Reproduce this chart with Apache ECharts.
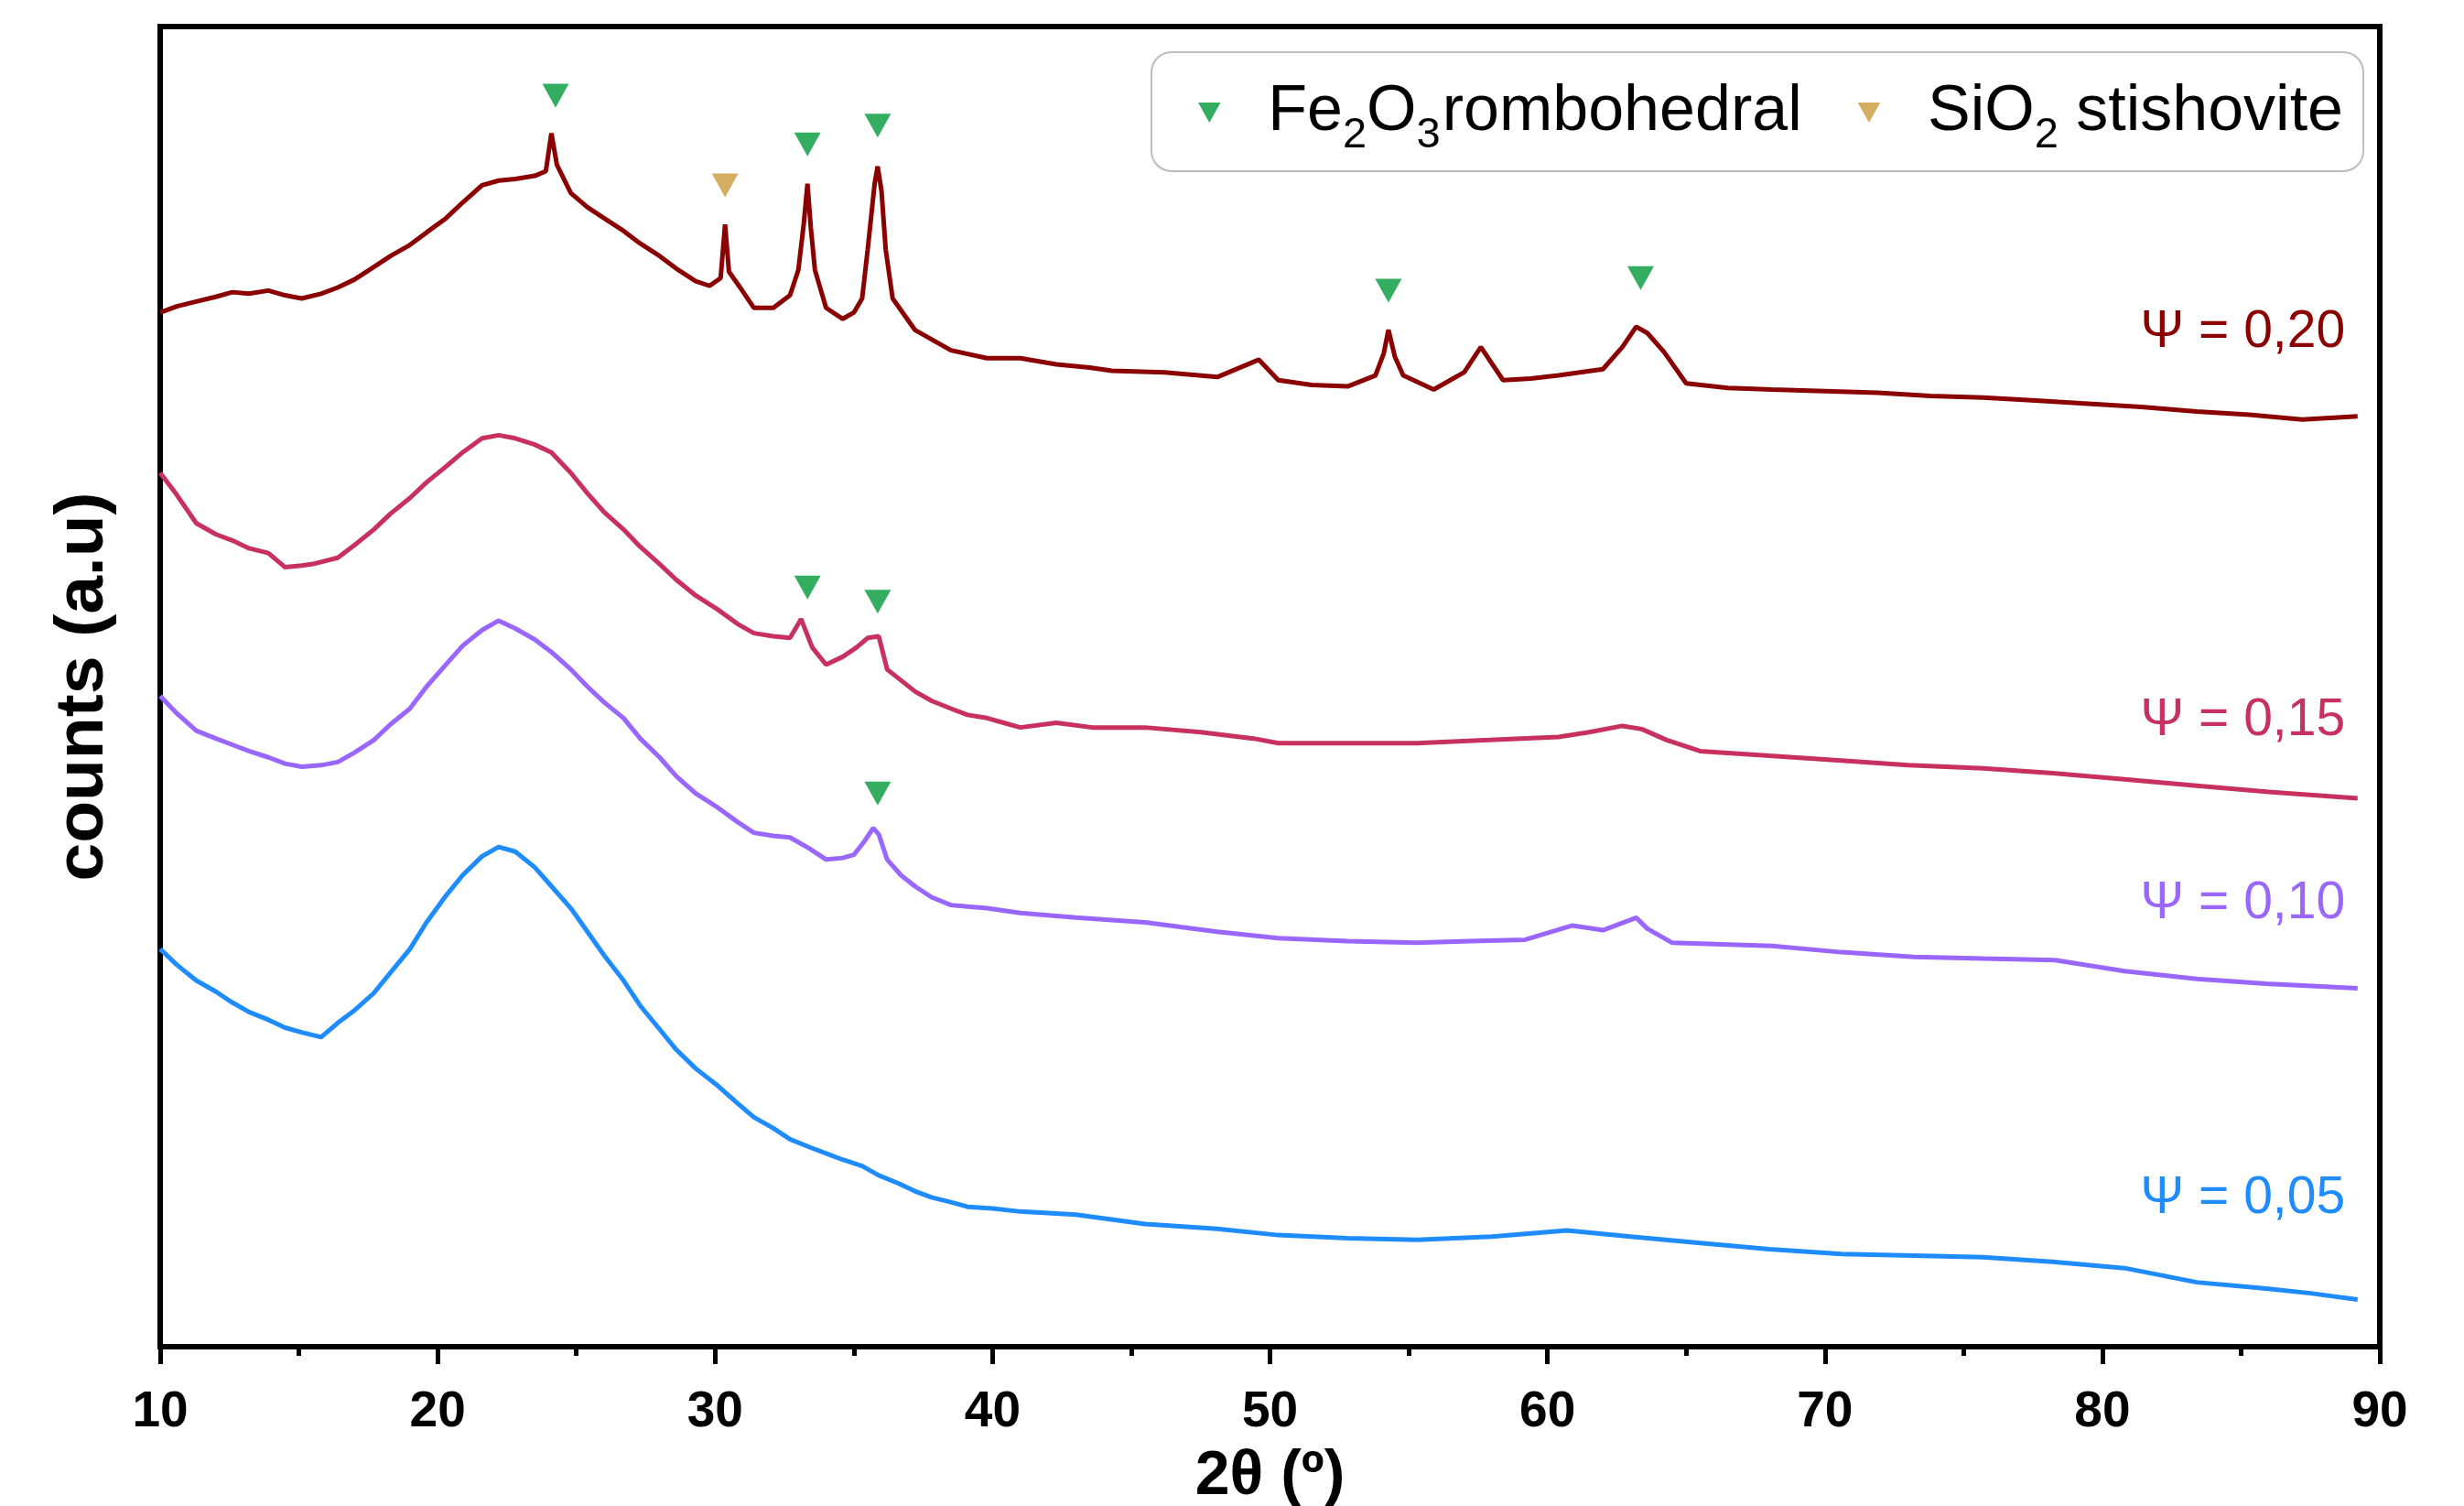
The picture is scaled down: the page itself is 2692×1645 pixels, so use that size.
<!DOCTYPE html>
<html>
<head>
<meta charset="utf-8">
<script src="https://cdn.jsdelivr.net/npm/echarts@6/dist/echarts.min.js"></script>
<style>
html,body{margin:0;padding:0;background:#fff;}
#chart{width:2692px;height:1645px;}
</style>
</head>
<body>
<div id="chart"></div>
<script>
// ---- data (2θ in degrees, counts in arbitrary units, curves already offset) ----
const theta020 = [10.0,10.6,11.3,12.0,12.6,13.2,13.9,14.5,15.1,15.8,16.4,17.0,17.7,18.3,19.0,19.6,20.3,20.9,21.6,22.2,22.8,23.5,23.9,24.1,24.3,24.8,25.4,26.0,26.7,27.3,28.0,28.6,29.3,29.8,30.2,30.36,30.5,30.9,31.4,32.1,32.7,33.0,33.2,33.33,33.45,33.6,34.0,34.6,35.0,35.3,35.5,35.75,35.86,36.0,36.15,36.4,37.2,38.5,39.8,41.0,42.3,43.5,44.3,46.2,48.1,49.6,50.3,51.5,52.8,53.8,54.1,54.27,54.5,54.8,55.9,57.0,57.6,58.4,59.4,60.4,62.0,62.7,63.2,63.6,64.2,65.0,66.5,68.1,70.0,71.9,73.8,75.7,77.6,79.5,81.4,83.4,85.3,87.2,89.2];
const counts020 = [658,662,665,668,671,670,672,669,667,670,674,679,687,694,701,709,718,728,739,742,743,745,748,772,752,734,725,718,710,702,694,686,678,675,680,714,684,674,661,661,669,685,715,740,712,685,661,654,658,667,698,740,751,735,698,667,647,634,629,629,625,623,621,620,617,628,615,612,611,618,632,647,630,618,609,620,636,615,616,618,622,636,649,645,633,613,610,609,608,607,605,604,602,600,598,595,593,590,592];

const theta015 = [10.0,10.6,11.3,12.0,12.6,13.2,13.9,14.5,15.1,15.5,16.4,17.0,17.7,18.3,19.0,19.6,20.3,20.9,21.6,22.2,22.8,23.5,24.1,24.8,25.4,26.0,26.7,27.3,28.0,28.6,29.3,30.1,30.8,31.4,32.1,32.7,33.1,33.5,34.0,34.6,35.1,35.5,35.9,36.2,36.7,37.2,37.8,38.5,39.1,39.8,40.4,41.0,42.3,43.6,45.5,47.5,49.4,50.3,52.8,55.3,57.9,60.4,61.5,62.7,63.4,64.3,65.5,68.0,70.6,73.0,75.7,78.2,80.8,83.4,86.0,89.2];
const counts015 = [556,542,524,517,513,508,505,496,497,498,502,510,520,530,540,550,560,569,578,580,578,574,569,556,543,531,520,509,498,488,478,469,460,454,452,451,463,445,434,439,445,451,452,431,424,417,411,406,402,400,397,394,397,394,394,391,387,384,384,384,386,388,391,395,393,386,379,376,373,370,368,365,361,357,353,349];

const theta010 = [10.0,10.6,11.3,12.0,12.6,13.2,13.9,14.5,15.1,15.8,16.4,17.0,17.7,18.3,19.0,19.6,20.3,20.9,21.6,22.2,22.8,23.5,24.1,24.8,25.4,26.0,26.7,27.3,28.0,28.6,29.3,30.1,30.8,31.4,32.1,32.7,33.4,34.0,34.6,35.0,35.4,35.7,35.9,36.2,36.7,37.2,37.8,38.5,39.1,39.8,41.0,43.0,45.5,48.1,50.3,52.8,55.3,57.2,59.2,60.9,62.0,63.2,63.6,64.5,66.3,68.1,70.6,73.2,75.7,78.3,80.8,83.4,85.9,89.2];
const counts010 = [414,403,392,387,383,379,375,371,369,370,372,378,386,396,406,420,434,446,456,462,457,450,442,431,420,410,400,387,375,363,352,343,334,327,325,324,317,310,311,313,322,330,326,310,300,293,286,281,280,279,276,273,270,264,260,258,257,258,259,268,265,273,266,257,256,255,251,248,247,246,239,234,231,228];

const theta005 = [10.0,10.6,11.3,12.0,12.6,13.2,13.9,14.5,15.1,15.8,16.4,17.0,17.7,18.3,19.0,19.6,20.3,20.9,21.6,22.2,22.8,23.5,24.1,24.8,25.4,26.0,26.7,27.3,28.0,28.6,29.3,30.1,30.8,31.4,32.1,32.7,33.4,34.0,34.6,35.3,35.9,36.6,37.2,37.8,38.5,39.1,40.0,41.0,43.0,45.5,48.1,50.3,52.8,55.3,58.0,60.7,63.0,65.5,68.0,70.6,73.2,75.7,78.2,80.8,83.4,85.9,87.5,89.2];
const counts005 = [253,243,233,226,219,213,208,203,200,197,206,214,225,238,253,270,287,300,312,318,315,305,293,279,264,249,233,217,202,189,177,166,155,146,139,132,127,123,119,115,109,104,99,95,92,89,88,86,84,78,75,71,69,68,70,74,70,66,62,59,58,57,54,50,41,37,34,30];

// reflection markers (2θ, height above the curve)
const feTheta  = [24.25, 33.33, 35.86, 54.27, 63.36, 33.33, 35.86, 35.86];
const feHeight = [796, 765, 777, 672, 680, 483, 474, 352];
const siTheta  = [30.36];
const siHeight = [739];

const xTicks = [10, 20, 30, 40, 50, 60, 70, 80, 90];
const seriesNames = ['Ψ = 0,20', 'Ψ = 0,15', 'Ψ = 0,10', 'Ψ = 0,05'];
const legendNames = ['Fe2O3 rombohedral', 'SiO2 stishovite'];

// ---- styling ----
const FONT = '"Liberation Sans", Arial, Helvetica, sans-serif';
const COLORS = ['#8B0000', '#C8305F', '#9966FF', '#1E8CFF'];
const GREEN = '#009A3A';
const GOLD = '#C9993A';
const TRI = 'path://M0,0 L29,0 L14.5,26 Z';
const labelPos = [[88.75, 645], [88.75, 398], [88.75, 282], [88.75, 94]];

const curves = [[theta020, counts020], [theta015, counts015], [theta010, counts010], [theta005, counts005]];
const zip = (a, b) => a.map((v, i) => [v, b[i]]);

const lineSeries = curves.map((c, i) => ({
  name: seriesNames[i],
  type: 'line',
  data: zip(c[0], c[1]),
  showSymbol: false,
  symbol: 'none',
  lineStyle: { color: COLORS[i], width: 5 },
  itemStyle: { color: COLORS[i] },
  z: 2,
  markPoint: {
    symbol: 'circle',
    symbolSize: 0,
    silent: true,
    data: [{ coord: labelPos[i] }],
    label: {
      show: true,
      position: 'left',
      distance: 0,
      formatter: seriesNames[i],
      fontSize: 57,
      fontFamily: FONT,
      color: COLORS[i]
    }
  }
}));

const legendRich = {
  'Fe2O3 rombohedral': '{g| }{t|Fe}{s|2}{t|O}{s|3}{h| }{t|rombohedral}',
  'SiO2 stishovite': '{g| }{t|SiO}{s|2}{t| stishovite}'
};

const option = {
  backgroundColor: '#ffffff',
  animation: false,
  grid: {
    left: 175, right: 92, top: 29, bottom: 174,
    outerBoundsMode: 'none', containLabel: false,
    show: true, borderColor: '#000', borderWidth: 6, backgroundColor: 'transparent'
  },
  xAxis: {
    type: 'value', min: 10, max: 90, interval: 10,
    name: '2θ (º)', nameLocation: 'middle', nameGap: 108,
    nameTextStyle: { fontSize: 68, fontWeight: 'bold', color: '#000', fontFamily: FONT },
    axisLine: { show: true, lineStyle: { color: '#000', width: 6 } },
    axisTick: { show: true, length: 19, lineStyle: { color: '#000', width: 5 } },
    minorTick: { show: true, splitNumber: 2, length: 10, lineStyle: { color: '#000', width: 5 } },
    splitLine: { show: false },
    minorSplitLine: { show: false },
    axisLabel: {
      fontSize: 55, fontWeight: 'bold', color: '#000', margin: 44, fontFamily: FONT,
      formatter: v => (xTicks.indexOf(v) >= 0 ? String(v) : '')
    }
  },
  yAxis: {
    type: 'value', min: 0, max: 840,
    name: 'counts (a.u)', nameLocation: 'middle', nameRotate: 90, nameGap: 46,
    nameTextStyle: { fontSize: 75, fontWeight: 'bold', color: '#000', fontFamily: FONT },
    axisLine: { show: false }, axisTick: { show: false }, axisLabel: { show: false }, splitLine: { show: false }
  },
  legend: {
    data: [{ name: legendNames[0], icon: TRI }, { name: legendNames[1], icon: TRI }],
    left: 1258, top: 57, orient: 'horizontal',
    itemWidth: 26, itemHeight: 22, itemGap: 61,
    padding: [31, 22, 15, 51],
    borderColor: '#bdbdbd', borderWidth: 2, borderRadius: 22,
    backgroundColor: '#ffffff',
    selectedMode: false,
    formatter: name => legendRich[name],
    textStyle: {
      color: '#000',
      rich: {
        g: { width: 46, fontSize: 20 },
        h: { width: 2, fontSize: 20 },
        t: { fontSize: 70, fontFamily: FONT, color: '#000', lineHeight: 98, verticalAlign: 'middle' },
        s: { fontSize: 47, fontFamily: FONT, color: '#000', lineHeight: 44, verticalAlign: 'bottom' }
      }
    }
  },
  series: lineSeries.concat([
    {
      name: legendNames[0], type: 'scatter', data: zip(feTheta, feHeight),
      symbol: TRI, symbolSize: [29, 26], itemStyle: { color: GREEN }, z: 5
    },
    {
      name: legendNames[1], type: 'scatter', data: zip(siTheta, siHeight),
      symbol: TRI, symbolSize: [29, 26], itemStyle: { color: GOLD }, z: 5
    }
  ])
};

const chart = echarts.init(document.getElementById('chart'), null, { renderer: 'canvas' });
chart.setOption(option);
</script>
</body>
</html>
